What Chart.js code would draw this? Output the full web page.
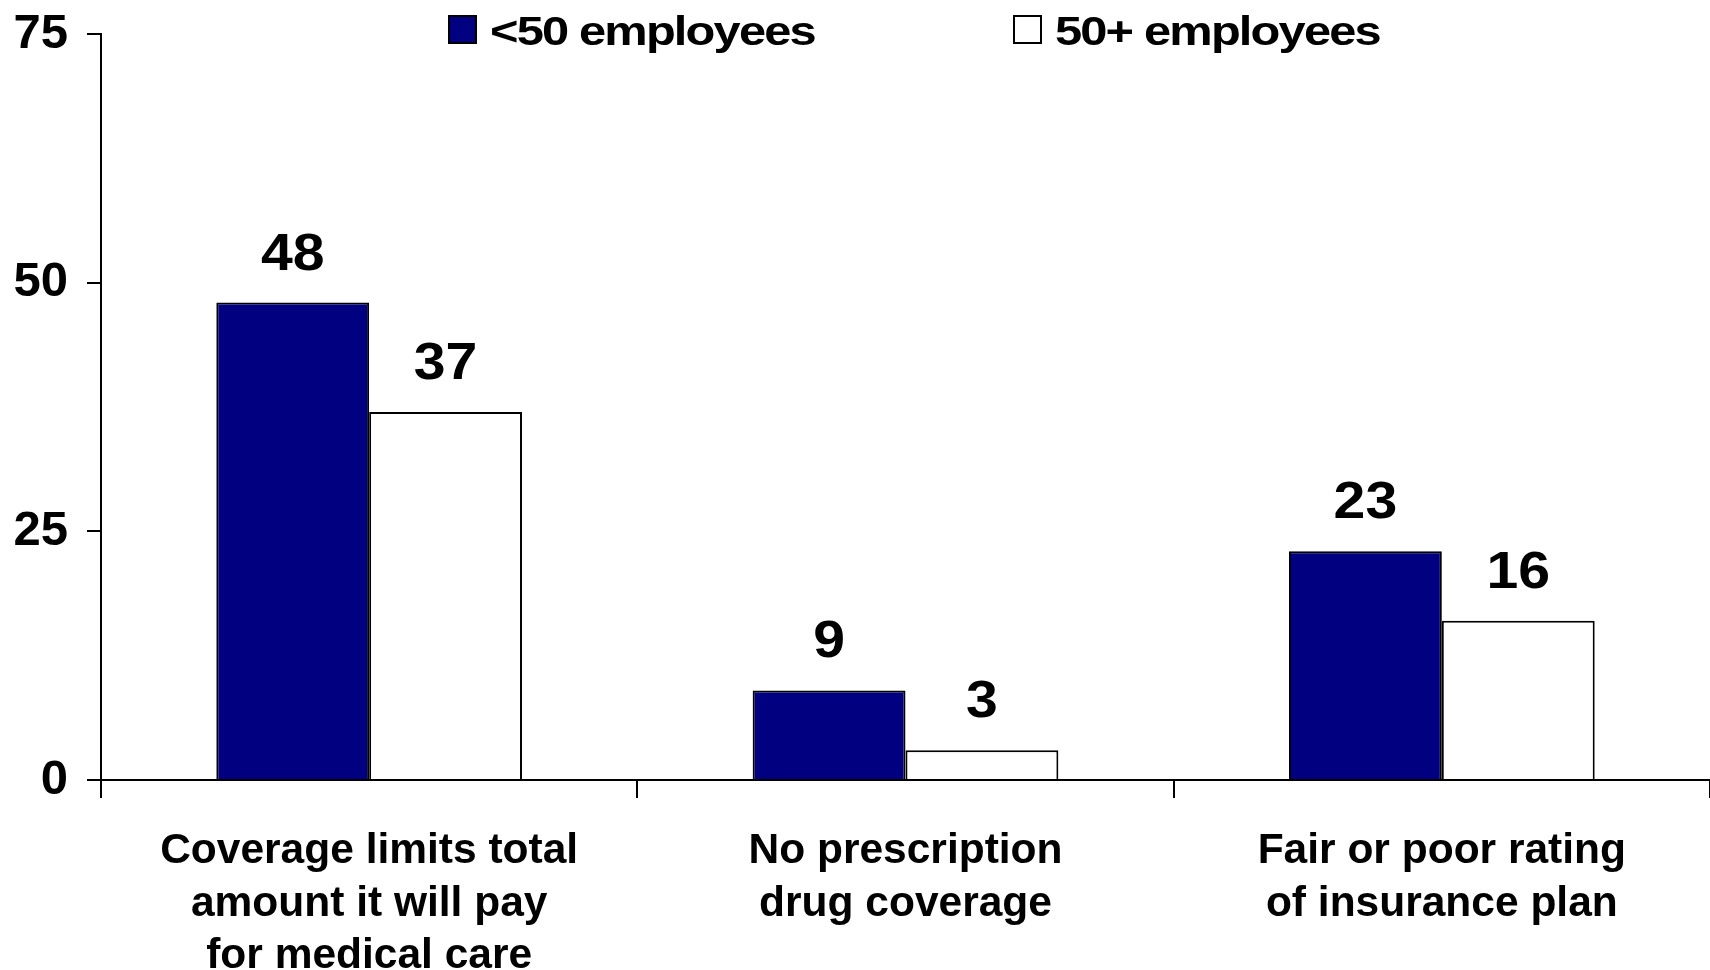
<!DOCTYPE html>
<html>
<head>
<meta charset="utf-8">
<script src="https://cdn.jsdelivr.net/npm/chart.js@4.4.0/dist/chart.umd.min.js"></script>
<style>
  html, body { margin: 0; padding: 0; background: #fff; }
  #wrap { width: 1710px; height: 970px; position: relative; }
</style>
</head>
<body>
<div id="wrap"><canvas id="chart" width="1710" height="970"></canvas></div>
<script>
// ── Data ──

const categories = [
  ['Coverage limits total', 'amount it will pay', 'for medical care'],
  ['No prescription', 'drug coverage'],
  ['Fair or poor rating', 'of insurance plan'],
]
const seriesNames = ['<50 employees', '50+ employees']
const smallFirms = [48, 9, 23]
const largeFirms = [37, 3, 16]
const yTicks = [0, 25, 50, 75]

const COLORS = {
  navy: '#000080',
  white: '#ffffff',
  ink: '#000000',
}
const FONT = '"Liberation Sans", Arial, Helvetica, sans-serif'

// ── Plugins ──

// value labels above each bar (slightly wide glyphs, like the original)
const valueLabels = {
  id: 'valueLabels',
  afterDatasetsDraw(chart) {
    const { ctx } = chart
    ctx.save()
    ctx.font = `bold 52px ${FONT}`
    ctx.fillStyle = COLORS.ink
    ctx.textAlign = 'center'
    ctx.textBaseline = 'alphabetic'
    chart.data.datasets.forEach((ds, i) => {
      chart.getDatasetMeta(i).data.forEach((bar, j) => {
        ctx.save()
        ctx.translate(bar.x, bar.y - 33)
        ctx.scale(1.1, 1)
        ctx.fillText(String(ds.data[j]), 0, 0)
        ctx.restore()
      })
    })
    ctx.restore()
  },
}

// legend across the top, two items placed apart
const topLegend = {
  id: 'topLegend',
  afterDraw(chart) {
    const { ctx } = chart
    const spots = [449, 1014]
    ctx.save()
    ctx.font = `bold 40px ${FONT}`
    ctx.letterSpacing = '-1.5px'
    ctx.textBaseline = 'alphabetic'
    chart.data.datasets.forEach((ds, i) => {
      const x = spots[i]
      ctx.fillStyle = ds.backgroundColor
      ctx.fillRect(x, 16, 27, 27)
      ctx.lineWidth = 2
      ctx.strokeStyle = COLORS.ink
      ctx.strokeRect(x, 16, 27, 27)
      ctx.save()
      ctx.translate(x + 41, 45)
      ctx.scale(1.22, 1)
      ctx.fillStyle = COLORS.ink
      ctx.fillText(ds.label, 0, 0)
      ctx.restore()
    })
    ctx.restore()
  },
}

// ── Chart ──

new Chart(document.getElementById('chart'), {
  type: 'bar',
  data: {
    labels: categories,
    datasets: [
      {
        label: seriesNames[0],
        data: smallFirms,
        backgroundColor: COLORS.navy,
        borderColor: COLORS.ink,
        borderWidth: 2,
        categoryPercentage: 0.57,
        barPercentage: 1.0,
      },
      {
        label: seriesNames[1],
        data: largeFirms,
        backgroundColor: COLORS.white,
        borderColor: COLORS.ink,
        borderWidth: 2,
        categoryPercentage: 0.57,
        barPercentage: 1.0,
      },
    ],
  },
  options: {
    responsive: false,
    animation: false,
    layout: { padding: { top: 34, right: 0, bottom: 0, left: 0 } },
    plugins: {
      legend: { display: false },
      tooltip: { enabled: false },
    },
    scales: {
      x: {
        afterFit: s => { s.height = 190 },
        border: { display: true, color: COLORS.ink, width: 2 },
        grid: {
          offset: true,
          drawOnChartArea: false,
          drawTicks: true,
          tickLength: 18,
          color: COLORS.ink,
          lineWidth: 2,
        },
        ticks: {
          color: COLORS.ink,
          font: { family: FONT, size: 42.5, weight: 'bold', lineHeight: 1.24 },
          padding: 27,
          maxRotation: 0,
          autoSkip: false,
        },
      },
      y: {
        min: 0,
        max: 75,
        afterFit: s => { s.width = 101 },
        afterBuildTicks: s => { s.ticks = yTicks.map(v => ({ value: v })) },
        border: { display: true, color: COLORS.ink, width: 2 },
        grid: {
          drawOnChartArea: false,
          drawTicks: true,
          tickLength: 14,
          color: COLORS.ink,
          lineWidth: 2,
        },
        ticks: {
          color: COLORS.ink,
          // small lineHeight so the top label does not push the plot down
          font: { family: FONT, size: 49, weight: 'bold', lineHeight: 0.5 },
          padding: 19,
        },
      },
    },
  },
  plugins: [valueLabels, topLegend],
})
</script>
</body>
</html>
